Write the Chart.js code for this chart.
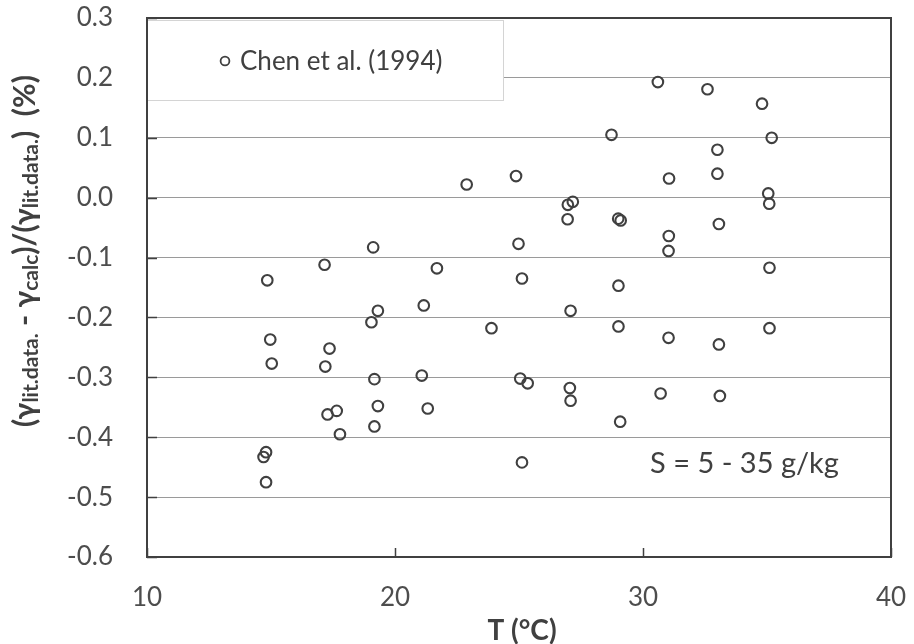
<!DOCTYPE html>
<html>
<head>
<meta charset="utf-8">
<script src="https://cdn.jsdelivr.net/npm/chart.js@4/dist/chart.umd.min.js"></script>
<style>
  html, body { margin: 0; padding: 0; background: #fff; }
  canvas { display: block; }
</style>
</head>
<body>
<canvas id="chart" width="914" height="644"></canvas>
<script>
// ---- data ----------------------------------------------------------------
const seriesLabel = "Chen et al. (1994)";
const tempC = [
  14.85, 14.97, 15.03, 14.8, 14.7, 14.8,
  17.16, 17.36, 17.19, 17.28, 17.65, 17.78,
  19.12, 19.31, 19.05, 19.17, 19.31, 19.17,
  21.69, 21.16, 21.08, 21.32, 23.89, 22.89,
  24.88, 24.98, 25.12, 25.05, 25.35, 25.12,
  27.17, 26.97, 26.96, 27.08, 27.05, 27.08,
  28.73, 29.0, 29.1, 29.01, 29.01, 29.08,
  30.6, 31.05, 31.04, 31.03, 31.03, 30.71,
  32.6, 33.0, 33.0, 33.06, 33.06, 33.1,
  34.8, 35.19, 35.05, 35.09, 35.1, 35.1
];
const deviation = [
  -0.138, -0.237, -0.277, -0.425, -0.433, -0.475,
  -0.112, -0.252, -0.282, -0.362, -0.356, -0.395,
  -0.083, -0.189, -0.208, -0.303, -0.348, -0.382,
  -0.118, -0.180, -0.297, -0.352, -0.218, 0.022,
  0.036, -0.077, -0.135, -0.302, -0.310, -0.442,
  -0.007, -0.012, -0.036, -0.189, -0.318, -0.339,
  0.105, -0.035, -0.038, -0.147, -0.215, -0.374,
  0.193, 0.032, -0.064, -0.089, -0.234, -0.327,
  0.181, 0.080, 0.040, -0.044, -0.245, -0.331,
  0.157, 0.100, 0.007, -0.010, -0.117, -0.218
];
const xTicks = [10, 20, 30, 40];
const yTicks = [-0.6, -0.5, -0.4, -0.3, -0.2, -0.1, 0.0, 0.1, 0.2, 0.3];
const noteText = "S = 5 - 35 g/kg";

const ink = "#404040";
const tickInk = "#4d4d4d";
const font = "Lato, 'Open Sans', sans-serif";

// ---- extra drawing: frame, inward ticks, legend box, titles -------------
const decor = {
  id: "decor",
  afterDraw(chart) {
    const { ctx, chartArea: a, scales: { x, y } } = chart;
    ctx.save();

    // inward tick marks
    ctx.strokeStyle = ink;
    ctx.lineWidth = 1.5;
    ctx.beginPath();
    yTicks.forEach((v) => {
      const py = Math.round(y.getPixelForValue(v)) + 0.5;
      ctx.moveTo(a.left, py);
      ctx.lineTo(a.left + 10, py);
    });
    xTicks.forEach((v) => {
      const px = Math.round(x.getPixelForValue(v)) + 0.5;
      ctx.moveTo(px, a.bottom);
      ctx.lineTo(px, a.bottom - 9);
    });
    ctx.stroke();

    // legend box
    const lx = a.left, ly = a.top + 2, lw = 356, lh = 80;
    ctx.fillStyle = "#fff";
    ctx.fillRect(lx, ly, lw, lh);
    ctx.strokeStyle = "#d4d4d4";
    ctx.lineWidth = 1;
    ctx.strokeRect(lx + 0.5, ly + 0.5, lw, lh);
    ctx.beginPath();
    ctx.arc(lx + 78, ly + 41, 4.4, 0, Math.PI * 2);
    ctx.strokeStyle = ink;
    ctx.lineWidth = 1.8;
    ctx.stroke();
    ctx.fillStyle = ink;
    ctx.font = `26px ${font}`;
    ctx.textBaseline = "middle";
    ctx.textAlign = "left";
    ctx.fillText(seriesLabel, lx + 93, ly + 42);

    // frame
    ctx.strokeStyle = ink;
    ctx.lineWidth = 2;
    ctx.strokeRect(a.left, a.top, a.right - a.left, a.bottom - a.top);

    // salinity note
    ctx.font = `29px ${font}`;
    ctx.fillStyle = ink;
    ctx.fillText(noteText, 650, 464);

    // x title
    ctx.font = `bold 28px ${font}`;
    ctx.textAlign = "center";
    ctx.fillText("T (°C)", (a.left + a.right) / 2 + 3, 631);

    // y title with subscripts
    const parts = [
      ["(γ", 0], ["lit.data.", 1], [" - γ", 0], ["calc", 1],
      [")/(γ", 0], ["lit.data.", 1], [")  (%)", 0]
    ];
    const mainF = `bold 30px ${font}`, subF = `bold 21px ${font}`;
    let total = 0;
    parts.forEach(([t, s]) => { ctx.font = s ? subF : mainF; total += ctx.measureText(t).width; });
    ctx.translate(25, 251);
    ctx.rotate(-Math.PI / 2);
    ctx.textAlign = "left";
    ctx.textBaseline = "middle";
    let cx = -total / 2;
    parts.forEach(([t, s]) => {
      ctx.font = s ? subF : mainF;
      ctx.fillText(t, cx, s ? 6 : 0);
      cx += ctx.measureText(t).width;
    });
    ctx.restore();
  }
};

new Chart(document.getElementById("chart"), {
  type: "scatter",
  data: {
    datasets: [{
      label: seriesLabel,
      data: tempC.map((t, i) => ({ x: t, y: deviation[i] })),
      pointStyle: "circle",
      pointRadius: 5.3,
      pointBorderWidth: 2.1,
      pointBorderColor: ink,
      pointBackgroundColor: "rgba(255,255,255,0)",
      pointHoverRadius: 5.3
    }]
  },
  options: {
    responsive: false,
    animation: false,
    devicePixelRatio: 1,
    layout: { padding: { top: 18, right: 23, left: 0, bottom: 0 } },
    plugins: { legend: { display: false }, tooltip: { enabled: false } },
    scales: {
      x: {
        type: "linear",
        min: 10, max: 40,
        afterBuildTicks: (s) => { s.ticks = xTicks.map((v) => ({ value: v })); },
        afterFit: (s) => { s.height = 87; s.paddingLeft = 0; s.paddingRight = 0; },
        ticks: { color: tickInk, font: { family: font, size: 26 }, padding: 17, maxRotation: 0 },
        grid: { display: false },
        border: { display: false }
      },
      y: {
        min: -0.6, max: 0.3,
        afterBuildTicks: (s) => { s.ticks = yTicks.map((v) => ({ value: v })); },
        afterFit: (s) => { s.width = 147; s.paddingTop = 0; s.paddingBottom = 0; },
        ticks: {
          color: tickInk,
          font: { family: font, size: 26 },
          padding: 34,
          callback: (v) => (Math.round(v * 10) / 10).toFixed(1)
        },
        grid: { color: "#9a9a9a", lineWidth: 1, drawTicks: false },
        border: { display: false }
      }
    }
  },
  plugins: [decor]
});
</script>
</body>
</html>
